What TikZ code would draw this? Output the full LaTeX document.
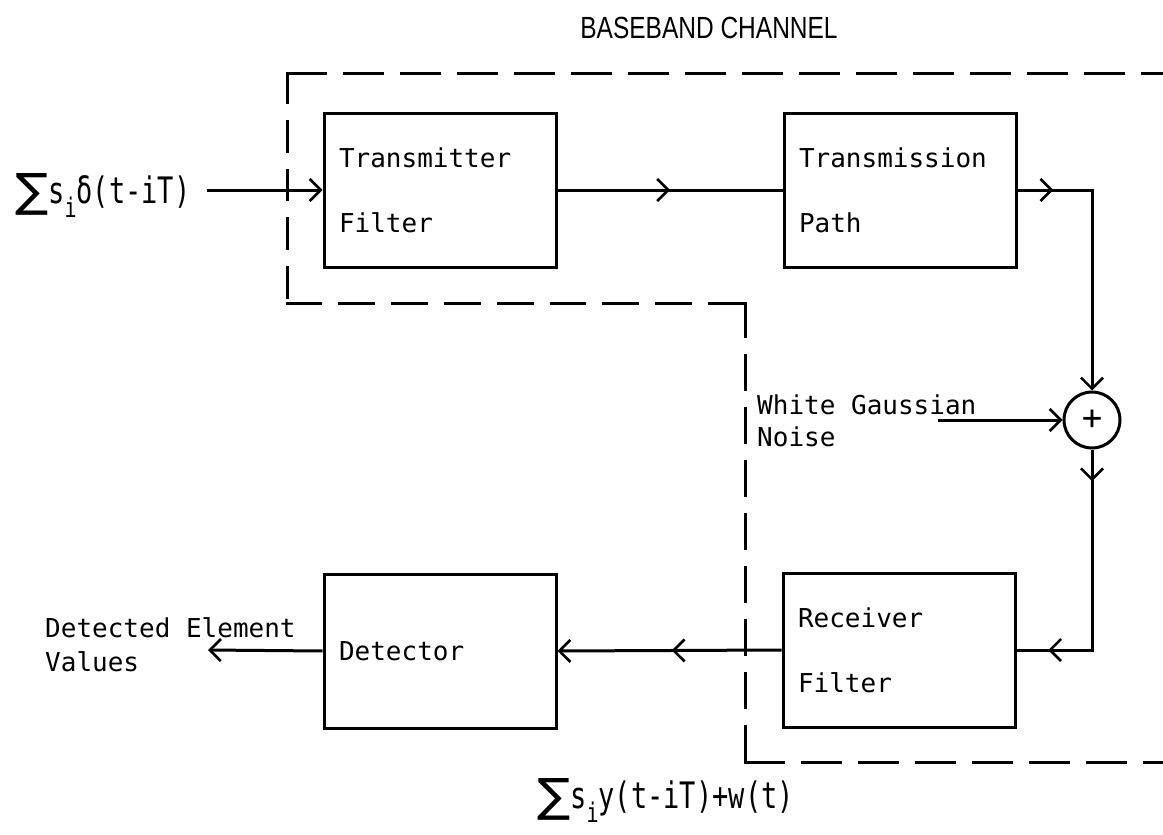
\documentclass[tikz,border=0pt]{standalone}
\usepackage{fontspec}
\setmonofont{DejaVu Sans Mono}
\newfontfamily\sigmafont{DejaVu Sans}
\newfontfamily\headfont{Liberation Sans}
\usetikzlibrary{arrows.meta,decorations.markings}

\tikzset{
  barb/.tip={Straight Barb[length=11pt,width=22pt,line width=2.6pt]},
}
% tall typewriter formula with a big summation sign and a lowered index
\newcommand{\formula}[1]{\scalebox{1}[1.35]{\ttfamily\fontsize{27}{27}\selectfont
  \raisebox{-2.5pt}{\scalebox{1.45}[1]{\sigmafont\fontsize{34}{34}\selectfont ∑}}%
  s\raisebox{-11pt}{\fontsize{20}{20}\selectfont i}#1}}

\begin{document}
\begin{tikzpicture}[x=1pt,y=-1pt,
  wire/.style={line width=3pt},
  blk/.style={draw, line width=3pt, minimum width=232pt, minimum height=154pt,
    text width=202pt, inner xsep=15pt, align=left,
    font=\ttfamily\fontsize{26}{65}\selectfont},
  lbl/.style={align=left, inner sep=0pt},
  midtip/.style={postaction={decorate,decoration={markings,
    mark=at position #1 with {\arrow{barb}}}}},
  bound/.style={line width=3pt, line cap=rect, dash pattern=on #1 off 19pt},
]
\useasboundingbox (0,0) rectangle (1163,835);

% title of the channel enclosure
\node[font=\headfont\fontsize{24.5}{24.5}\selectfont] (title) at (709,28)
  {\scalebox{1}[1.25]{BASEBAND CHANNEL}};

% blocks
\node[blk] (tx)  at (440,190) {Transmitter\\Filter};
\node[blk] (tp)  at (900,190) {Transmission\\Path};
\node[blk] (rx)  at (899,650) {Receiver\\Filter};
\node[blk] (det) at (440,651) {Detector};
\node[draw, circle, wire, minimum size=56pt, inner sep=0pt,
  font=\ttfamily\fontsize{34}{34}\selectfont] (sum) at (1092,420) {+};

% texts
\node[anchor=base west, inner sep=0pt] (inp) at (15,203) {\formula{δ(t-iT)}};
\node[anchor=base west, inner sep=0pt] (rxo) at (537,808) {\formula{y(t-iT)+w(t)}};
\node[lbl, anchor=west, font=\ttfamily\fontsize{26}{32}\selectfont] (noise) at (757,421)
  {White Gaussian\\Noise};
\node[lbl, anchor=west, font=\ttfamily\fontsize{26}{34}\selectfont] (dev) at (45,645)
  {Detected Element\\Values};

% free ends of connectors
\coordinate (ins) at (207,190);
\coordinate (nzs) at (938,420);
\coordinate (out) at (208,650);

% channel boundary
\coordinate (b1) at (1180,73);
\coordinate (b2) at (287,73);
\coordinate (b3) at (287,303);
\coordinate (b4) at (745,303);
\coordinate (b5) at (745,762);
\coordinate (b6) at (1180,762);
\draw[bound=38pt]   (b2) -- (b1);
\draw[bound=29.6pt] (b2) -- (b3);
\draw[bound=33.8pt] (b3) -- (b4);
\draw[bound=33.9pt] (b4) -- (b5);
\draw[bound=38pt]   (b5) -- (b6);

% signal flow
\draw[wire, -barb] (ins) -- (tx.west);
\draw[wire, midtip=0.5] (tx.east) -- (tp.west);
\draw[wire, -barb, midtip=0.13] (tp.east) -- (tp.east -| sum.center) -- (sum.north);
\draw[wire, -barb] (nzs) -- (sum.west);
\draw[wire, midtip=0.115, midtip=0.885] (sum.south) -- (sum.center |- rx.east) -- (rx.east);
\draw[wire, -barb, midtip=0.49] (rx.west) -- (det.east);
\draw[wire, -barb] (det.west) -- (out);
\end{tikzpicture}
\end{document}
